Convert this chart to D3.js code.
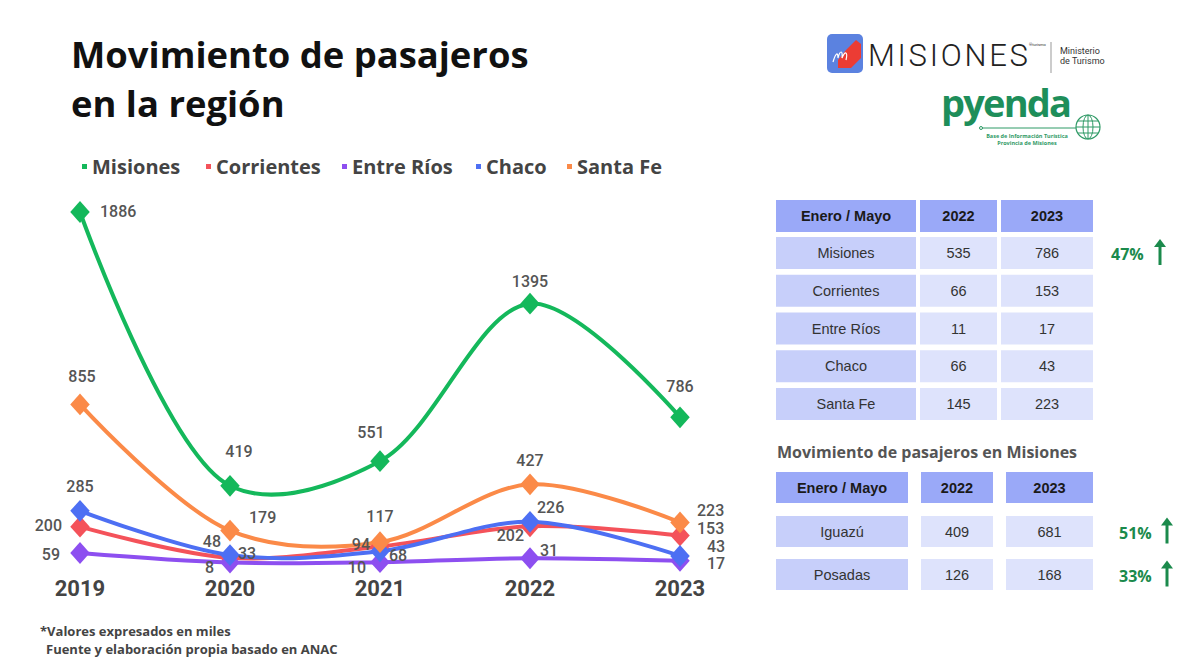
<!DOCTYPE html>
<html>
<head>
<meta charset="utf-8">
<script src="https://cdn.jsdelivr.net/npm/d3@7"></script>
<style>
  body { margin: 0; background: #fff; }
  svg { display: block; }
  .title { font-family: 'Open Sans', sans-serif; font-weight: 700; font-size: 36.4px; fill: #111; }
  .legend { font-family: 'Open Sans', sans-serif; font-weight: 700; font-size: 20px; fill: #444; }
  .lbl { font-family: Roboto, sans-serif; font-weight: 500; font-size: 16px; fill: #555; }
  .year { font-family: Roboto, sans-serif; font-weight: 700; font-size: 22px; fill: #444; }
  .note { font-family: 'Open Sans', sans-serif; font-weight: 700; font-size: 13px; fill: #444; }
  .cell { font-family: 'Liberation Sans', Arial, sans-serif; font-size: 14.5px; fill: #333; }
  .head { font-family: 'Liberation Sans', Arial, sans-serif; font-size: 14.5px; font-weight: 700; fill: #1a1a1a; }
  .sub { font-family: 'Open Sans', sans-serif; font-weight: 700; font-size: 16px; fill: #555; }
  .pct { font-family: 'Open Sans', sans-serif; font-weight: 700; font-size: 16px; fill: #1b8a4c; }
</style>
</head>
<body>
<svg width="1195" height="670"></svg>
<script>
// datos (miles de pasajeros)
var years = ['2019', '2020', '2021', '2022', '2023'];
var seriesNames = ['Misiones', 'Corrientes', 'Entre Ríos', 'Chaco', 'Santa Fe'];
var misiones = [1886, 419, 551, 1395, 786];
var corrientes = [200, 33, 94, 202, 153];
var entreRios = [59, 8, 10, 31, 17];
var chaco = [285, 48, 68, 226, 43];
var santaFe = [855, 179, 117, 427, 223];
var colors = ['#14b85b', '#f4525a', '#8d4ff0', '#4d6ff3', '#fb8a48'];

// tabla Enero / Mayo
var tblHead = ['Enero / Mayo', '2022', '2023'];
var tblRegions = ['Misiones', 'Corrientes', 'Entre Ríos', 'Chaco', 'Santa Fe'];
var tbl2022 = [535, 66, 11, 66, 145];
var tbl2023 = [786, 153, 17, 43, 223];
var tblChange = ['47%', null, null, null, null];

var cityNames = ['Iguazú', 'Posadas'];
var city2022 = [409, 126];
var city2023 = [681, 168];
var cityChange = ['51%', '33%'];

var allSeries = [misiones, corrientes, entreRios, chaco, santaFe];

var svg = d3.select('svg');

// titulo
var title = svg.append('text').attr('class', 'title').attr('x', 71);
title.append('tspan').attr('x', 71).attr('y', 68).text('Movimiento de pasajeros');
title.append('tspan').attr('x', 71).attr('y', 117).text('en la región');

// leyenda
var legX = [82, 206, 342, 476, 567];
seriesNames.forEach(function(n, i) {
  svg.append('rect').attr('x', legX[i]).attr('y', 164).attr('width', 5).attr('height', 5)
    .style('fill', colors[i]);
  svg.append('text').attr('class', 'legend').attr('x', legX[i] + 10).attr('y', 174).text(n);
});

// escalas
var x = d3.scalePoint().domain(years).range([80, 680]);
var y = d3.scaleLinear().domain([0, 1886]).range([564, 212]);

var line = d3.line()
  .x(function(d, i) { return x(years[i]); })
  .y(function(d) { return y(d); })
  .curve(d3.curveCatmullRom.alpha(0.5));

var diamond = d3.symbol().type(d3.symbolSquare).size(190);

allSeries.forEach(function(s, k) {
  svg.append('path').datum(s).attr('d', line)
    .style('fill', 'none').style('stroke', colors[k]).style('stroke-width', 4)
    .style('stroke-linecap', 'round');
});
allSeries.forEach(function(s, k) {
  svg.selectAll(null).data(s).enter().append('path')
    .attr('d', diamond)
    .attr('transform', function(d, i) { return 'translate(' + x(years[i]) + ',' + y(d) + ') scale(1,1.12) rotate(45)'; })
    .style('fill', colors[k]);
});

// colocacion de etiquetas [anchor, dx, dy]
var place = [
  [['start', 20, 5], ['middle', 9, -29], ['middle', -9, -23], ['middle', 0, -17], ['middle', 0, -25]],
  [['end', -18, 4], ['start', 8, 1], ['end', -10, 4], ['end', -6, 15], ['start', 17, -1]],
  [['end', -20, 7], ['end', -16, 10], ['end', -14, 11], ['start', 10, -2], ['start', 27, 8]],
  [['middle', 0, -19], ['end', -9, -8], ['start', 9, 10], ['start', 7, -9], ['start', 27, -4]],
  [['middle', 2, -22], ['start', 19, -8], ['middle', 0, -20], ['middle', 0, -18], ['start', 17, -6]]
];
allSeries.forEach(function(s, k) {
  svg.selectAll(null).data(s).enter().append('text')
    .attr('class', 'lbl')
    .attr('text-anchor', function(d, i) { return place[k][i][0]; })
    .attr('x', function(d, i) { return x(years[i]) + place[k][i][1]; })
    .attr('y', function(d, i) { return y(d) + place[k][i][2]; })
    .text(function(d) { return d; });
});

// eje x
svg.selectAll('.year').data(years).enter().append('text')
  .attr('class', 'year').attr('text-anchor', 'middle')
  .attr('x', function(d) { return x(d); }).attr('y', 596)
  .text(function(d) { return d; });

// notas
svg.append('text').attr('class', 'note').attr('x', 40).attr('y', 636).text('*Valores expresados en miles');
svg.append('text').attr('class', 'note').attr('x', 46).attr('y', 654).text('Fuente y elaboración propia basado en ANAC');

// tablas
function arrow(xa, yc) {
  svg.append('path')
    .attr('d', 'M' + xa + ',' + (yc + 12) + 'V' + (yc - 9))
    .style('stroke', '#1b8a4c').style('stroke-width', 3).style('fill', 'none');
  svg.append('path')
    .attr('d', 'M' + (xa - 6) + ',' + (yc - 6) + 'L' + xa + ',' + (yc - 14) + 'L' + (xa + 6) + ',' + (yc - 6) + 'Z')
    .style('fill', '#1b8a4c');
}

function drawTable(colX, colW, headY, headH, rowY0, rowStep, rowH, names, v22, v23, change, pctX, arrX) {
  colX.forEach(function(cx, j) {
    svg.append('rect').attr('x', cx).attr('y', headY).attr('width', colW[j]).attr('height', headH)
      .style('fill', '#9aa9f8');
    svg.append('text').attr('class', 'head').attr('text-anchor', 'middle')
      .attr('x', cx + colW[j] / 2).attr('y', headY + headH / 2 + 5).text(tblHead[j]);
  });
  names.forEach(function(n, i) {
    var ry = rowY0 + i * rowStep;
    var vals = [n, v22[i], v23[i]];
    colX.forEach(function(cx, j) {
      svg.append('rect').attr('x', cx).attr('y', ry).attr('width', colW[j]).attr('height', rowH)
        .style('fill', j === 0 ? '#c7cffa' : '#dee3fc');
      svg.append('text').attr('class', 'cell').attr('text-anchor', 'middle')
        .attr('x', cx + colW[j] / 2).attr('y', ry + rowH / 2 + 5).text(vals[j]);
    });
    if (change[i]) {
      svg.append('text').attr('class', 'pct').attr('x', pctX).attr('y', ry + rowH / 2 + 7).text(change[i]);
      arrow(arrX, ry + rowH / 2);
    }
  });
}

drawTable([776, 920, 1001], [140, 77, 92], 200, 32, 237, 37.75, 32,
  tblRegions, tbl2022, tbl2023, tblChange, 1111, 1160);

svg.append('text').attr('class', 'sub').attr('x', 777).attr('y', 458).text('Movimiento de pasajeros en Misiones');

drawTable([776, 921, 1006], [132, 72, 87], 472, 31, 516, 43, 31,
  cityNames, city2022, city2023, cityChange, 1119, 1167);

// logo Misiones
var logo = svg.append('g');
logo.append('rect').attr('x', 827).attr('y', 34).attr('width', 36).attr('height', 39).attr('rx', 5)
  .style('fill', '#5b82e0');
logo.append('path').attr('d', 'M846,50 L856,40 L861,44 L861,58 L851,68 L838,68 L838,60 Z')
  .style('fill', '#ec3c34');
logo.append('path').attr('d', 'M833,62 C836,52 838,52 838,58 C840,50 843,50 842,58 C845,50 848,52 846,60')
  .style('fill', 'none').style('stroke', '#fff').style('stroke-width', 1.2);
logo.append('text').attr('x', 868).attr('y', 66).attr('textLength', 160)
  .style('font-family', 'Roboto, sans-serif').style('font-weight', 300).style('font-size', '31px')
  .style('fill', '#222').text('MISIONES');
logo.append('text').attr('x', 1029).attr('y', 46)
  .style('font-family', 'Roboto, sans-serif').style('font-size', '4px').style('fill', '#333').text('®turismo');
logo.append('line').attr('x1', 1051).attr('x2', 1051).attr('y1', 42).attr('y2', 73)
  .style('stroke', '#999').style('stroke-width', 1);
logo.append('text').attr('x', 1060).attr('y', 54)
  .style('font-family', 'Roboto, sans-serif').style('font-size', '9px').style('fill', '#333').text('Ministerio');
logo.append('text').attr('x', 1060).attr('y', 64)
  .style('font-family', 'Roboto, sans-serif').style('font-size', '9px').style('fill', '#333').text('de Turismo');

// logo pyenda
var py = svg.append('g');
py.append('text').attr('x', 941).attr('y', 117).attr('textLength', 131)
  .style('font-family', "'Open Sans', sans-serif").style('font-weight', 700).style('font-size', '38px')
  .style('fill', '#1e8e5a').text('pyenda');
py.append('line').attr('x1', 982).attr('x2', 1076).attr('y1', 128).attr('y2', 128)
  .style('stroke', '#2f9a66').style('stroke-width', 1);
py.append('circle').attr('cx', 981).attr('cy', 128).attr('r', 1.5).style('fill', 'none').style('stroke', '#2f9a66');
py.append('circle').attr('cx', 1088).attr('cy', 127).attr('r', 12)
  .style('fill', 'none').style('stroke', '#2f9a66').style('stroke-width', 1.2);
py.append('ellipse').attr('cx', 1088).attr('cy', 127).attr('rx', 5).attr('ry', 12)
  .style('fill', 'none').style('stroke', '#2f9a66').style('stroke-width', 1);
py.append('path').attr('d', 'M1076,127H1100M1078,121H1098M1078,133H1098M1088,115V139')
  .style('fill', 'none').style('stroke', '#2f9a66').style('stroke-width', 1);
py.append('text').attr('x', 1027).attr('y', 138).attr('text-anchor', 'middle')
  .style('font-family', "'Open Sans', sans-serif").style('font-weight', 700).style('font-size', '5.5px')
  .style('fill', '#2f9a66').text('Base de Información Turística');
py.append('text').attr('x', 1027).attr('y', 145).attr('text-anchor', 'middle')
  .style('font-family', "'Open Sans', sans-serif").style('font-weight', 700).style('font-size', '5.5px')
  .style('fill', '#2f9a66').text('Provincia de Misiones');
</script>
</body>
</html>
